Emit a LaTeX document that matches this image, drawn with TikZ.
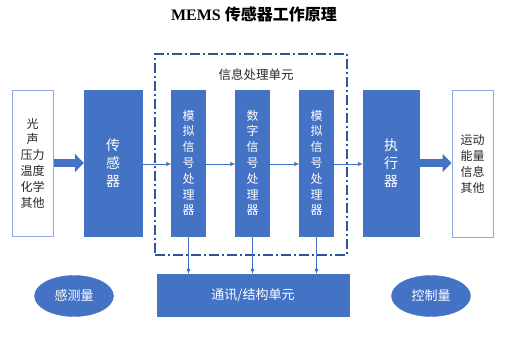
\documentclass[tikz,border=0pt]{standalone}
\usepackage{fontspec}
\setmainfont{Liberation Serif}
\newfontfamily\cjk{Noto Sans CJK SC}
\usetikzlibrary{arrows.meta,shapes.geometric}
\definecolor{boxblue}{HTML}{4472C4}
\definecolor{frameblue}{HTML}{2F5597}
\definecolor{lightedge}{HTML}{8FAADC}
\tikzset{
  bluebox/.style={draw=boxblue,fill=boxblue,text=white,inner sep=0pt,align=center,font=\cjk\fontsize{14}{18}\selectfont},
  procbox/.style={bluebox,minimum width=34pt,minimum height=146pt,font=\cjk\fontsize{12}{15.8}\selectfont},
  whitebox/.style={draw=lightedge,line width=1pt,fill=white,text=black!85,inner sep=0pt,align=center,minimum width=41pt,minimum height=146pt,font=\cjk\fontsize{12}{15.8}\selectfont},
  thinarrow/.style={draw=boxblue,line width=0.8pt,-{Latex[length=5pt,width=4.5pt]}},
  thickarrow/.style={draw=boxblue,line width=8pt,-{Triangle[length=9pt,width=18pt]}},
  ovalnode/.style={ellipse,draw=boxblue,fill=boxblue,text=white,minimum width=79pt,minimum height=41pt,inner sep=0pt,font=\cjk\fontsize{13}{15}\selectfont},
}
\begin{document}
\begin{tikzpicture}[x=1pt,y=-1pt]
\useasboundingbox (0,0) rectangle (506,337);
\node[font=\bfseries\fontsize{16}{19}\selectfont] (title) at (254,14) {MEMS {\cjk\bfseries 传感器工作原理}};
% frame
\node[draw=frameblue,line width=2pt,dash pattern=on 10pt off 3pt on 2pt off 3pt,minimum width=192pt,minimum height=201pt,inner sep=0pt] (frame) at (251,154.5) {};
\node[font=\cjk\fontsize{12.5}{15}\selectfont,text=black!85] (flabel) at (256,75) {信息处理单元};
% boxes
\node[whitebox] (in) at (32.5,163) {光\\声\\压力\\温度\\化学\\其他};
\node[bluebox,minimum width=58pt,minimum height=146pt] (sens) at (113,163) {传\\感\\器};
\node[procbox] (p1) at (188.5,163) {模\\拟\\信\\号\\处\\理\\器};
\node[procbox] (p2) at (252.5,163) {数\\字\\信\\号\\处\\理\\器};
\node[procbox] (p3) at (316.5,163) {模\\拟\\信\\号\\处\\理\\器};
\node[bluebox,minimum width=56pt,minimum height=146pt] (exec) at (391,163) {执\\行\\器};
\node[whitebox,minimum height=147pt] (out) at (472.5,164) {运动\\能量\\信息\\其他};
\node[bluebox,minimum width=192pt,minimum height=42pt,font=\cjk\fontsize{13}{15}\selectfont] (comm) at (253,295) {通讯/结构单元};
\node[ovalnode] (sense) at (74,296) {感测量};
\node[ovalnode] (ctrl) at (431,296) {控制量};
% connectors
\draw[thickarrow] (in.east |- 0,163) -- (sens.west |- 0,163);
\draw[thinarrow] (sens.east |- 0,164) -- (p1.west |- 0,164);
\draw[thinarrow] (p1.east |- 0,164) -- (p2.west |- 0,164);
\draw[thinarrow] (p2.east |- 0,164) -- (p3.west |- 0,164);
\draw[thinarrow] (p3.east |- 0,164) -- (exec.west |- 0,164);
\draw[thickarrow] (exec.east |- 0,163) -- (out.west |- 0,163);
\draw[thinarrow] (p1.south) -- (p1.south |- comm.north);
\draw[thinarrow] (p2.south) -- (p2.south |- comm.north);
\draw[thinarrow] (p3.south) -- (p3.south |- comm.north);
\end{tikzpicture}
\end{document}
